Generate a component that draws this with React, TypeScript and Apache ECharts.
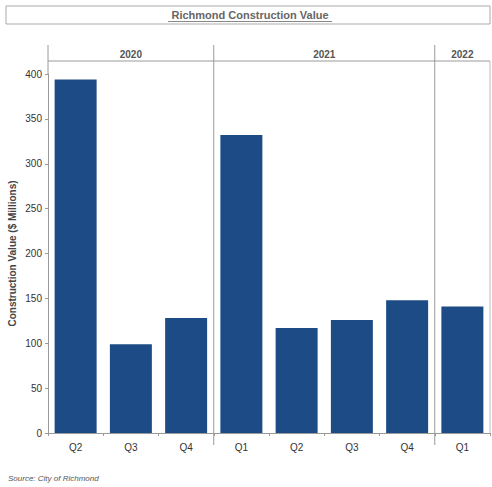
import React, { useEffect, useRef } from "react";
import * as echarts from "echarts";

const categories = ["2020 Q2", "2020 Q3", "2020 Q4", "2021 Q1", "2021 Q2", "2021 Q3", "2021 Q4", "2022 Q1"];
const values = [394, 99, 128, 332, 117, 126, 148, 141];
const years = ["2020", "2021", "2022"];
const quartersPerYear = [3, 4, 1];
const yTicks = [0, 50, 100, 150, 200, 250, 300, 350, 400];

const FONT = "Liberation Sans";
const LINE = "#9a9a9a";

export default function App() {
  const ref = useRef<HTMLDivElement>(null);
  useEffect(() => {
    const chart = echarts.init(ref.current!, null, { renderer: "svg" });
    const option: any = {
      animation: false,
      backgroundColor: "#fff",
      grid: { left: 48, right: 2, top: 74, bottom: 54, containLabel: false, outerBoundsMode: "none" },
      xAxis: {
        type: "category",
        data: categories,
        axisLine: { lineStyle: { color: LINE } },
        axisTick: { show: true, length: 3, lineStyle: { color: LINE } },
        axisLabel: {
          formatter: (v: string) => v.split(" ")[1],
          color: "#333",
          fontFamily: FONT,
          fontSize: 10,
          margin: 9,
        },
      },
      yAxis: {
        type: "value",
        min: yTicks[0],
        max: yTicks[yTicks.length - 1],
        interval: 50,
        name: "Construction Value ($ Millions)",
        nameLocation: "middle",
        nameGap: 31,
        nameMoveOverlap: false,
        nameTextStyle: { color: "#444", fontFamily: FONT, fontSize: 10, fontWeight: "bold" },
        axisLine: { show: true, lineStyle: { color: LINE } },
        axisTick: { show: true, length: 3, lineStyle: { color: LINE } },
        splitLine: { show: false },
        axisLabel: { color: "#333", fontFamily: FONT, fontSize: 10, margin: 6 },
      },
      series: [
        {
          type: "bar",
          data: values,
          barCategoryGap: "24%",
          itemStyle: { color: "#1c4b86" },
        },
      ],
    };
    chart.setOption(option);

    const c0 = chart.convertToPixel({ xAxisIndex: 0 }, 0) as number;
    const c1 = chart.convertToPixel({ xAxisIndex: 0 }, 1) as number;
    const band = c1 - c0;
    const left = c0 - band / 2;
    const yBot = chart.convertToPixel({ yAxisIndex: 0 }, 0) as number;
    const yTop = chart.convertToPixel({ yAxisIndex: 0 }, yTicks[yTicks.length - 1]) as number;
    const headerY = 61;
    const right = left + band * categories.length;

    const g: any[] = [];
    g.push({ type: "rect", shape: { x: 6, y: 6, width: 484, height: 18 }, style: { fill: "none", stroke: "#aaa", lineWidth: 1 } });
    g.push({
      type: "text",
      x: 250,
      y: 15,
      style: { text: "Richmond Construction Value", fill: "#666", font: `bold 11px "${FONT}"`, align: "center", verticalAlign: "middle" },
    });
    g.push({ type: "line", shape: { x1: 168, y1: 21.5, x2: 332, y2: 21.5 }, style: { stroke: "#888", lineWidth: 1 } });
    g.push({ type: "line", shape: { x1: left, y1: headerY, x2: right, y2: headerY }, style: { stroke: LINE, lineWidth: 1 } });
    g.push({ type: "line", shape: { x1: right, y1: headerY, x2: right, y2: yBot }, style: { stroke: "#bbb", lineWidth: 1 } });
    g.push({ type: "line", shape: { x1: left, y1: 45, x2: left, y2: yTop }, style: { stroke: LINE, lineWidth: 1 } });
    let idx = 0;
    years.forEach((yr, i) => {
      const start = left + band * idx;
      idx += quartersPerYear[i];
      const end = left + band * idx;
      g.push({
        type: "text",
        x: (start + end) / 2,
        y: 54,
        style: { text: yr, fill: "#555", font: `bold 10px "${FONT}"`, align: "center", verticalAlign: "middle" },
      });
      if (i < years.length - 1) {
        g.push({ type: "line", shape: { x1: end, y1: 45, x2: end, y2: yBot + 12 }, style: { stroke: LINE, lineWidth: 1 } });
      }
    });
    g.push({
      type: "text",
      x: 8,
      y: 478,
      style: { text: "Source: City of Richmond", fill: "#555", font: `italic 8px "${FONT}"`, verticalAlign: "middle" },
    });
    chart.setOption({ graphic: g });
    return () => chart.dispose();
  }, []);
  return <div ref={ref} style={{ width: 492, height: 487, position: "absolute", left: 0, top: 0 }} />;
}
